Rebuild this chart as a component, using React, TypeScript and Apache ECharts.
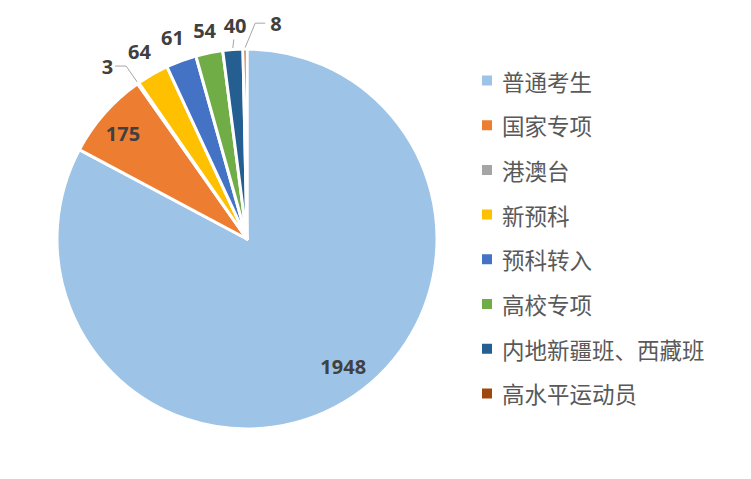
import React, { useEffect, useRef } from "react";
import * as echarts from "echarts";

const categories = ["普通考生", "国家专项", "港澳台", "新预科", "预科转入", "高校专项", "内地新疆班、西藏班", "高水平运动员"];
const values = [1948, 175, 3, 64, 61, 54, 40, 8];
const colors = ["#9DC3E6", "#ED7D31", "#A5A5A5", "#FFC000", "#4472C4", "#70AD47", "#255E91", "#9E480E"];

const CX = 239;
const CY = 231;
const R = 190;

// label placement: kind, radius, angle offset (deg)
const labelPlace: any[] = [
  { kind: "c", r: 160, da: -6 },
  { kind: "c", r: 163, da: -1 },
  { kind: "lineL", r1: 211, h: -11 },
  { kind: "c", r: 216, da: 0 },
  { kind: "c", r: 215, da: 0 },
  { kind: "c", r: 213, da: 0 },
  { kind: "short", r: 214, da: 1.1, r1: 200 },
  { kind: "lineR", r1: 216, da1: 2.8, h: 10 },
];

function polar(r: number, ang: number): [number, number] {
  const a = (ang * Math.PI) / 180;
  return [CX + r * Math.sin(a), CY - r * Math.cos(a)];
}

export default function App() {
  const ref = useRef<HTMLDivElement>(null);
  useEffect(() => {
    const chart = echarts.init(ref.current!, null, { renderer: "svg" });
    const total = values.reduce((a, b) => a + b, 0);
    const mids: number[] = [];
    let cum = 0;
    values.forEach((v) => {
      mids.push(((cum + v / 2) / total) * 360);
      cum += v;
    });
    const data = categories.map((name, i) => {
      const k = labelPlace[i].kind;
      return {
        name,
        value: values[i],
        itemStyle: { color: colors[i] },
        labelLine: { show: k !== "c", lineStyle: { color: "#A6A6A6", width: 1 } },
      };
    });
    chart.setOption({
      animation: false,
      legend: {
        orient: "vertical",
        left: 472,
        top: 61,
        padding: 0,
        icon: "rect",
        itemWidth: 12,
        itemHeight: 12,
        itemGap: 21.7,
        data: categories,
        textStyle: {
          fontFamily: "Noto Sans CJK SC",
          fontSize: 22.5,
          color: "#595959",
          lineHeight: 23,
          padding: [0, 0, 0, 4],
        },
      },
      series: [
        {
          type: "pie",
          center: [CX, CY],
          radius: R,
          startAngle: 90,
          clockwise: true,
          avoidLabelOverlap: false,
          itemStyle: { borderColor: "#ffffff", borderWidth: 3 },
          label: {
            show: true,
            position: "outside",
            formatter: "{c}",
            fontFamily: "Open Sans",
            fontWeight: "bold",
            fontSize: 20,
            color: "#404040",
          },
          labelLine: { length: 10, length2: 10 },
          labelLayout: (params: any) => {
            const i = params.dataIndex;
            const p = labelPlace[i];
            const m = mids[i];
            if (p.kind === "c") {
              const [x, y] = polar(p.r, m + p.da);
              return { x, y, align: "center", verticalAlign: "middle" };
            }
            if (p.kind === "short") {
              const [x, y] = polar(p.r, m + p.da);
              const a = polar(R + 1, m);
              const b = polar(p.r1, m + 0.5);
              return { x, y, align: "center", verticalAlign: "middle", labelLinePoints: [a, b, b] };
            }
            if (p.kind === "lineL") {
              const a = polar(R + 1, m);
              const b = polar(p.r1, m);
              const c: [number, number] = [b[0] + p.h, b[1]];
              return { x: c[0] - 2, y: c[1], align: "right", verticalAlign: "middle", labelLinePoints: [a, b, c] };
            }
            const a = polar(R + 1, m);
            const b = polar(p.r1, m + p.da1);
            const c: [number, number] = [b[0] + p.h, b[1]];
            return { x: c[0] + 5, y: c[1], align: "left", verticalAlign: "middle", labelLinePoints: [a, b, c] };
          },
          data,
        },
      ],
    });
    return () => chart.dispose();
  }, []);
  return <div ref={ref} style={{ width: 735, height: 463 }} />;
}
